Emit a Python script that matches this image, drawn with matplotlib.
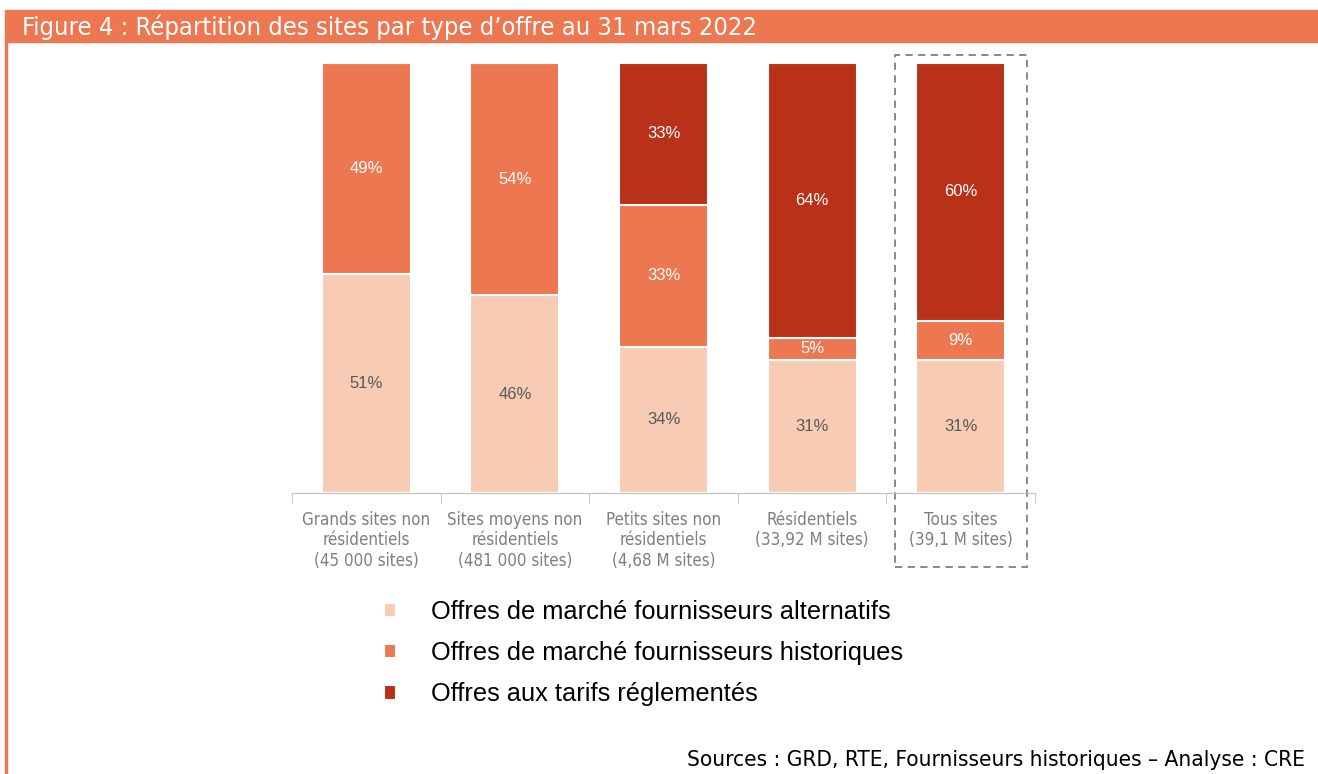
import matplotlib.pyplot as plt
from matplotlib.patches import Rectangle

categories = ['Grands sites non\nrésidentiels\n(45 000 sites)',
              'Sites moyens non\nrésidentiels\n(481 000 sites)',
              'Petits sites non\nrésidentiels\n(4,68 M sites)',
              'Résidentiels\n(33,92 M sites)',
              'Tous sites\n(39,1 M sites)']
alternatifs = [51, 46, 34, 31, 31]
historiques = [49, 54, 33, 5, 9]
reglementes = [0, 0, 33, 64, 60]
series_names = ['Offres de marché fournisseurs alternatifs',
                'Offres de marché fournisseurs historiques',
                'Offres aux tarifs réglementés']

c_light = '#F8CBB4'
c_mid = '#ED7751'
c_dark = '#B83118'
arial = ['Liberation Sans', 'DejaVu Sans']

fig = plt.figure(figsize=(13.18, 7.74), dpi=100)

# title banner + left rule
fig.patches.append(Rectangle((5/1318, 1-42/774), 1, 32/774, transform=fig.transFigure,
                             color=c_mid, zorder=0))
fig.patches.append(Rectangle((5/1318, 0), 2/1318, 1-42/774, transform=fig.transFigure,
                             color=c_mid, zorder=0))
fig.text(22/1318, 1-27/774, "Figure 4 : Répartition des sites par type d’offre au 31 mars 2022",
         color='white', fontsize=18.3, family='DejaVu Sans', stretch='condensed',
         va='center', ha='left')

ax = fig.add_axes([292/1318, 1-493/774, 743/1318, 430/774])
x = list(range(len(categories)))
w = 0.6
b1 = ax.bar(x, alternatifs, w, color=c_light, edgecolor='white', linewidth=1.5)
bottom2 = alternatifs
b2 = ax.bar(x, historiques, w, bottom=bottom2, color=c_mid, edgecolor='white', linewidth=1.5)
bottom3 = [a + h for a, h in zip(alternatifs, historiques)]
b3 = ax.bar(x, reglementes, w, bottom=bottom3, color=c_dark, edgecolor='white', linewidth=1.5)

for i in x:
    ax.text(i, alternatifs[i] / 2, f'{alternatifs[i]}%', ha='center', va='center',
            color='#595959', fontsize=12, family=arial)
    ax.text(i, bottom2[i] + historiques[i] / 2, f'{historiques[i]}%', ha='center', va='center',
            color='white', fontsize=12, family=arial)
    if reglementes[i] > 0:
        ax.text(i, bottom3[i] + reglementes[i] / 2, f'{reglementes[i]}%', ha='center',
                va='center', color='white', fontsize=12, family=arial)

ax.set_xlim(-0.5, len(categories) - 0.5)
ax.set_ylim(0, 100)
ax.set_yticks([])
for s in ['top', 'right', 'left']:
    ax.spines[s].set_visible(False)
ax.spines['bottom'].set_color('#BFBFBF')
ax.set_xticks(x)
ax.set_xticklabels(categories, fontsize=12.2, color='#7F7F7F', family='DejaVu Sans',
                   stretch='condensed', linespacing=1.16)
ax.tick_params(axis='x', which='major', length=0, pad=13)
ax.set_xticks([i - 0.5 for i in range(len(categories) + 1)], minor=True)
ax.tick_params(axis='x', which='minor', length=7, color='#BFBFBF', direction='out')

# dashed frame around "Tous sites"
ax.add_patch(Rectangle((3.558, -17.2), 0.888, 119.1, fill=False, linestyle=(0, (4, 3)),
                       edgecolor='#7F7F7F', linewidth=1.3, clip_on=False))

fig.legend([b1, b2, b3], series_names, loc='upper left',
           bbox_to_anchor=(361/1318, 1-577/774), frameon=False,
           prop={'family': arial, 'size': 18.3},
           handlelength=0.47, handleheight=0.5, handletextpad=1.4, labelspacing=0.68)

fig.text(1305/1318, 1-760/774, 'Sources : GRD, RTE, Fournisseurs historiques – Analyse : CRE',
         ha='right', va='center', fontsize=16.2, color='black', family='DejaVu Sans',
         stretch='condensed')

fig.savefig('out.png', dpi=100)
